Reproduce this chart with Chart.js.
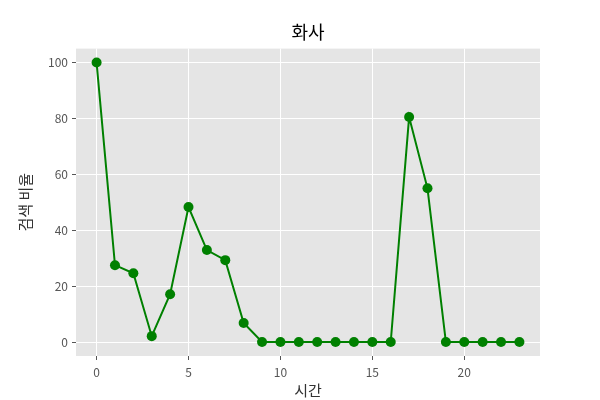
<!DOCTYPE html>
<html>
<head>
<meta charset="utf-8">
<script src="https://cdn.jsdelivr.net/npm/chart.js@4"></script>
<style>
  body { margin: 0; background: #fff; }
  #wrap { width: 600px; height: 400px; }
</style>
</head>
<body>
<div id="wrap"><canvas id="line-chart"></canvas></div>
<script>
var hours = [0,1,2,3,4,5,6,7,8,9,10,11,12,13,14,15,16,17,18,19,20,21,22,23];
var ratios = [100,27.5,24.6,2.1,17.1,48.3,32.9,29.3,6.8,0,0,0,0,0,0,0,0,80.5,55.0,0,0,0,0,0];
var xTicks = [0,5,10,15,20];
var yTicks = [0,20,40,60,80,100];

var fontFamily = "'Noto Sans CJK KR', 'Noto Sans', sans-serif";

var plotBackground = {
  id: 'plotBackground',
  beforeDraw: function(chart) {
    var a = chart.chartArea, ctx = chart.ctx;
    ctx.save();
    ctx.fillStyle = '#E5E5E5';
    ctx.fillRect(a.left, a.top, a.right - a.left, a.bottom - a.top);
    ctx.restore();
  }
};

window.onload = function() {
  var canvas = document.getElementById("line-chart");
  new Chart(canvas, {
    type: 'line',
    data: {
      datasets: [{
        data: hours.map(function(h, i) { return {x: h, y: ratios[i]}; }),
        borderColor: '#008000',
        backgroundColor: '#008000',
        borderWidth: 2,
        pointRadius: 5,
        pointHoverRadius: 5,
        pointBorderWidth: 0,
        tension: 0
      }]
    },
    options: {
      responsive: true,
      maintainAspectRatio: false,
      animation: false,
      layout: { padding: { left: 0, right: 60, top: 0, bottom: 0 } },
      plugins: {
        legend: { display: false },
        tooltip: { enabled: false },
        title: {
          display: true,
          text: '화사',
          fullSize: false,
          color: '#000',
          font: { family: fontFamily, size: 18, weight: 'normal' },
          padding: { top: 21, bottom: 6 }
        }
      },
      scales: {
        x: {
          type: 'linear',
          min: -1.12,
          max: 24.12,
          afterBuildTicks: function(axis) {
            axis.ticks = xTicks.map(function(v) { return {value: v}; });
          },
          afterFit: function(axis) { axis.height = 44; },
          grid: { color: '#fff', lineWidth: 1, tickColor: '#555', tickLength: 4 },
          border: { display: false },
          ticks: { color: '#555', font: { family: fontFamily, size: 12 }, padding: 5, maxRotation: 0 },
          title: {
            display: true,
            text: '시간',
            color: '#333',
            font: { family: fontFamily, size: 15 },
            padding: { top: 0, bottom: 1 }
          }
        },
        y: {
          min: -5,
          max: 105,
          afterBuildTicks: function(axis) {
            axis.ticks = yTicks.map(function(v) { return {value: v}; });
          },
          afterFit: function(axis) { axis.width = 76; },
          grid: { color: '#fff', lineWidth: 1, tickColor: '#555', tickLength: 4 },
          border: { display: false },
          ticks: { color: '#555', font: { family: fontFamily, size: 12 }, padding: 4 },
          title: {
            display: true,
            text: '검색 비율',
            color: '#333',
            font: { family: fontFamily, size: 15 },
            padding: { top: 16, bottom: 0 }
          }
        }
      }
    },
    plugins: [plotBackground]
  });
};
</script>
</body>
</html>
